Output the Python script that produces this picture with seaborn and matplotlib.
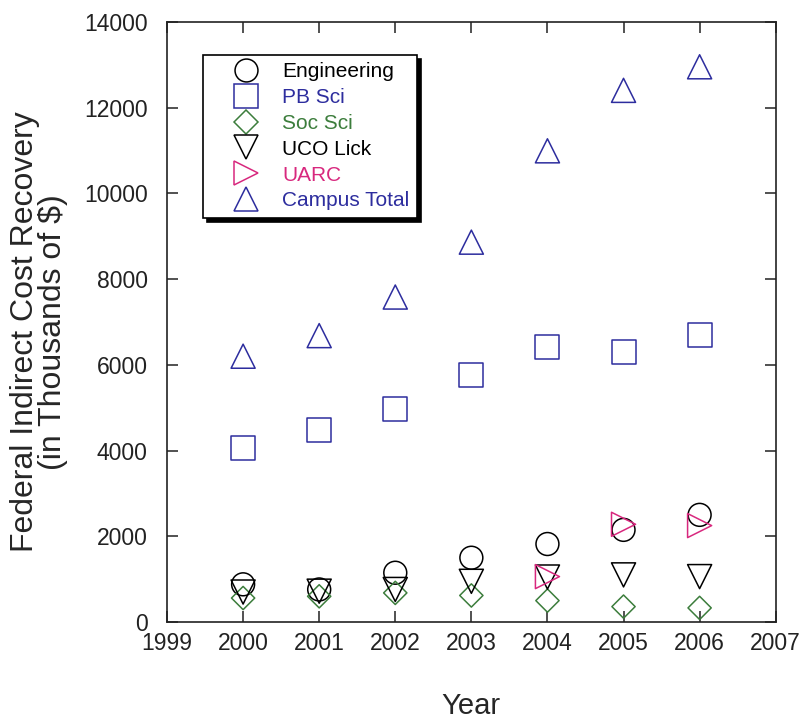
import matplotlib
matplotlib.use("Agg")
import matplotlib.pyplot as plt
from matplotlib.lines import Line2D
import seaborn as sns
import pandas as pd

years = [2000, 2001, 2002, 2003, 2004, 2005, 2006]
engineering = [880, 760, 1150, 1500, 1820, 2150, 2500]
pb_sci = [4060, 4480, 4970, 5770, 6420, 6300, 6700]
soc_sci = [560, 600, 680, 620, 500, 360, 330]
uco_lick = [700, 720, 760, 950, 1050, 1100, 1060]
uarc_years = [2004, 2005, 2006]
uarc = [1060, 2280, 2250]
campus_total = [6200, 6680, 7580, 8860, 10990, 12400, 12950]

series = [
    ("Engineering", years, engineering, "o", 272, "black"),
    ("PB Sci", years, pb_sci, "s", 300, "#2d2d9e"),
    ("Soc Sci", years, soc_sci, "D", 140, "#3c7d3c"),
    ("UCO Lick", years, uco_lick, "v", 300, "black"),
    ("UARC", uarc_years, uarc, ">", 300, "#d8287e"),
    ("Campus Total", years, campus_total, "^", 300, "#2d2d9e"),
]

sns.set_style("ticks")
plt.rcParams["font.family"] = ["Liberation Sans", "DejaVu Sans"]

fig = plt.figure(figsize=(8.03, 7.25), dpi=100)
ax = fig.add_axes([0.208, 0.142, 0.758, 0.828])

handles = []
for name, xs, ys, mk, size, col in series:
    df = pd.DataFrame({"Year": xs, "Value": ys})
    sns.scatterplot(data=df, x="Year", y="Value", marker=mk, s=size, color=col, ax=ax)
    coll = ax.collections[-1]
    coll.set_facecolor("none")
    coll.set_edgecolor(col)
    coll.set_linewidth(1.1)
    handles.append(Line2D([], [], linestyle="none", marker=mk, markersize=(size ** 0.5),
                          markerfacecolor="none", markeredgecolor=col,
                          markeredgewidth=1.1, label=name))

ax.set_xlim(1999, 2007)
ax.set_ylim(0, 14000)
ax.set_xticks(range(1999, 2008))
ax.set_yticks(range(0, 14001, 2000))
ax.tick_params(direction="in", length=8, width=1.1, top=True, right=True,
               labelsize=16.5, colors="#222222")
ax.tick_params(axis="y", pad=14)
ax.tick_params(axis="x", pad=7)
for sp in ax.spines.values():
    sp.set_linewidth(1.2)
    sp.set_color("#222222")

ax.set_xlabel("Year", fontsize=21, labelpad=27)
ax.set_ylabel("Federal Indirect Cost Recovery\n(in Thousands of $)", fontsize=23,
              linespacing=0.95)
ax.yaxis.set_label_coords(-0.162, 0.483)

leg = ax.legend(handles=handles, loc="upper left", bbox_to_anchor=(0.059, 0.945),
                borderaxespad=0, fancybox=False, edgecolor="black", framealpha=1,
                fontsize=15, labelspacing=0.33, handletextpad=0.05, borderpad=0.35,
                handlelength=3.4,
                shadow={"ox": 3, "oy": -3, "color": "black", "alpha": 1})
leg.get_frame().set_linewidth(1.2)
for txt, (_, _, _, _, _, col) in zip(leg.get_texts(), series):
    txt.set_color(col)

fig.savefig("out.png", dpi=100)
